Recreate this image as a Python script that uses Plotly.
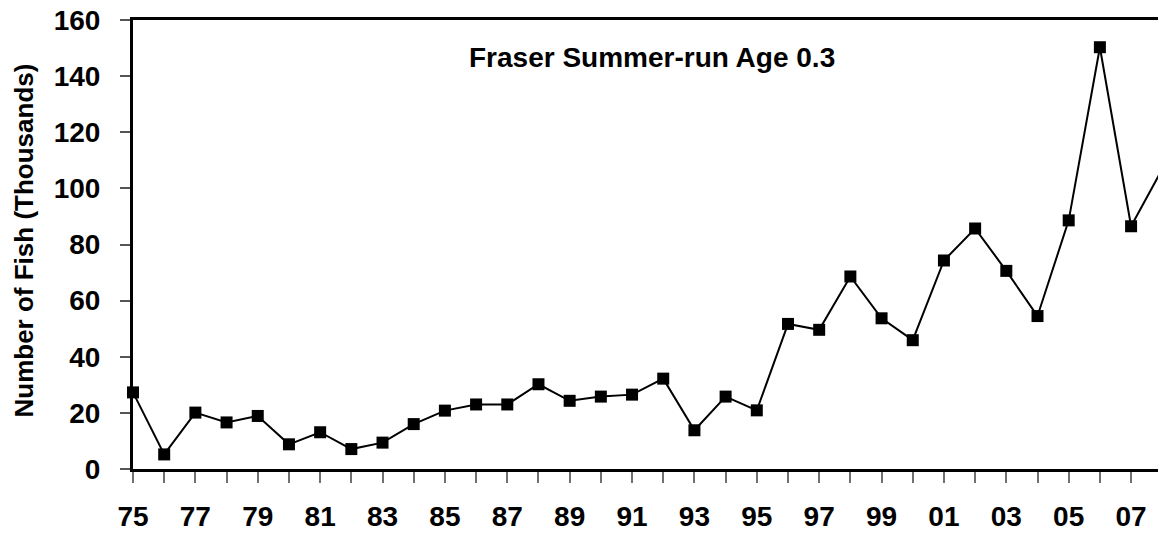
import plotly.graph_objects as go

years = list(range(1975, 2009))
fish_thousands = [27.3, 5.2, 20.1, 16.6, 18.9, 8.8, 13.1, 7.1, 9.4, 16.0,
                  20.8, 23.0, 23.0, 30.2, 24.3, 25.8, 26.5, 32.2, 13.8, 25.8,
                  20.9, 51.7, 49.6, 68.6, 53.7, 45.9, 74.3, 85.7, 70.6, 54.5,
                  88.6, 150.3, 86.5, 106.9]
x_tick_labels = [("%02d" % (y % 100)) if (y - 1975) % 2 == 0 else "" for y in years]
y_tick_vals = [0, 20, 40, 60, 80, 100, 120, 140, 160]
title_text = "Fraser Summer-run Age 0.3"
y_title_text = "Number of Fish (Thousands)"

FONT = "Arial, 'Liberation Sans', sans-serif"
W, H = 1158, 533
L, T, B = 133, 20, 64
plot_w = W - L
px_per_year = 31.19

fig = go.Figure()
fig.add_trace(go.Scatter(
    x=years, y=fish_thousands, mode="lines+markers",
    line=dict(color="black", width=2),
    marker=dict(symbol="square", size=12, color="black"),
    cliponaxis=False, showlegend=False,
))

fig.update_layout(
    width=W, height=H,
    margin=dict(l=L, r=0, t=T, b=B, autoexpand=False),
    paper_bgcolor="white", plot_bgcolor="white",
    font=dict(family=FONT, color="black"),
    xaxis=dict(
        range=[1975, 1975 + plot_w / px_per_year],
        tickmode="array", tickvals=years, ticktext=x_tick_labels,
        ticks="outside", ticklen=11, tickwidth=1.5, tickcolor="#707070",
        showline=True, linecolor="black", linewidth=3, mirror=True,
        showgrid=False, zeroline=False,
        tickfont=dict(family=FONT, size=28, color="black", weight="bold"),
        ticklabelstandoff=9,
    ),
    yaxis=dict(
        range=[0, 160],
        tickmode="array", tickvals=y_tick_vals,
        ticks="outside", ticklen=10, tickwidth=1.5, tickcolor="#555555",
        showline=True, linecolor="black", linewidth=3,
        showgrid=False, zeroline=False,
        tickfont=dict(family=FONT, size=28, color="black", weight="bold"),
        ticklabelstandoff=14,
    ),
    annotations=[
        dict(text="<b>%s</b>" % title_text, xref="paper", yref="paper",
             x=(651.5 - L) / plot_w, y=(469 - 57.5) / 449,
             xanchor="center", yanchor="middle", showarrow=False,
             font=dict(family=FONT, size=28, color="black")),
        dict(text="<b>%s</b>" % y_title_text, xref="paper", yref="paper",
             x=(23 - L) / plot_w, y=(469 - 240.5) / 449,
             xanchor="center", yanchor="middle", showarrow=False, textangle=-90,
             font=dict(family=FONT, size=26, color="black")),
    ],
)

fig.write_html("out.html", config={"displayModeBar": False},
               post_script="document.body.style.margin='0';document.body.style.overflow='hidden';")
